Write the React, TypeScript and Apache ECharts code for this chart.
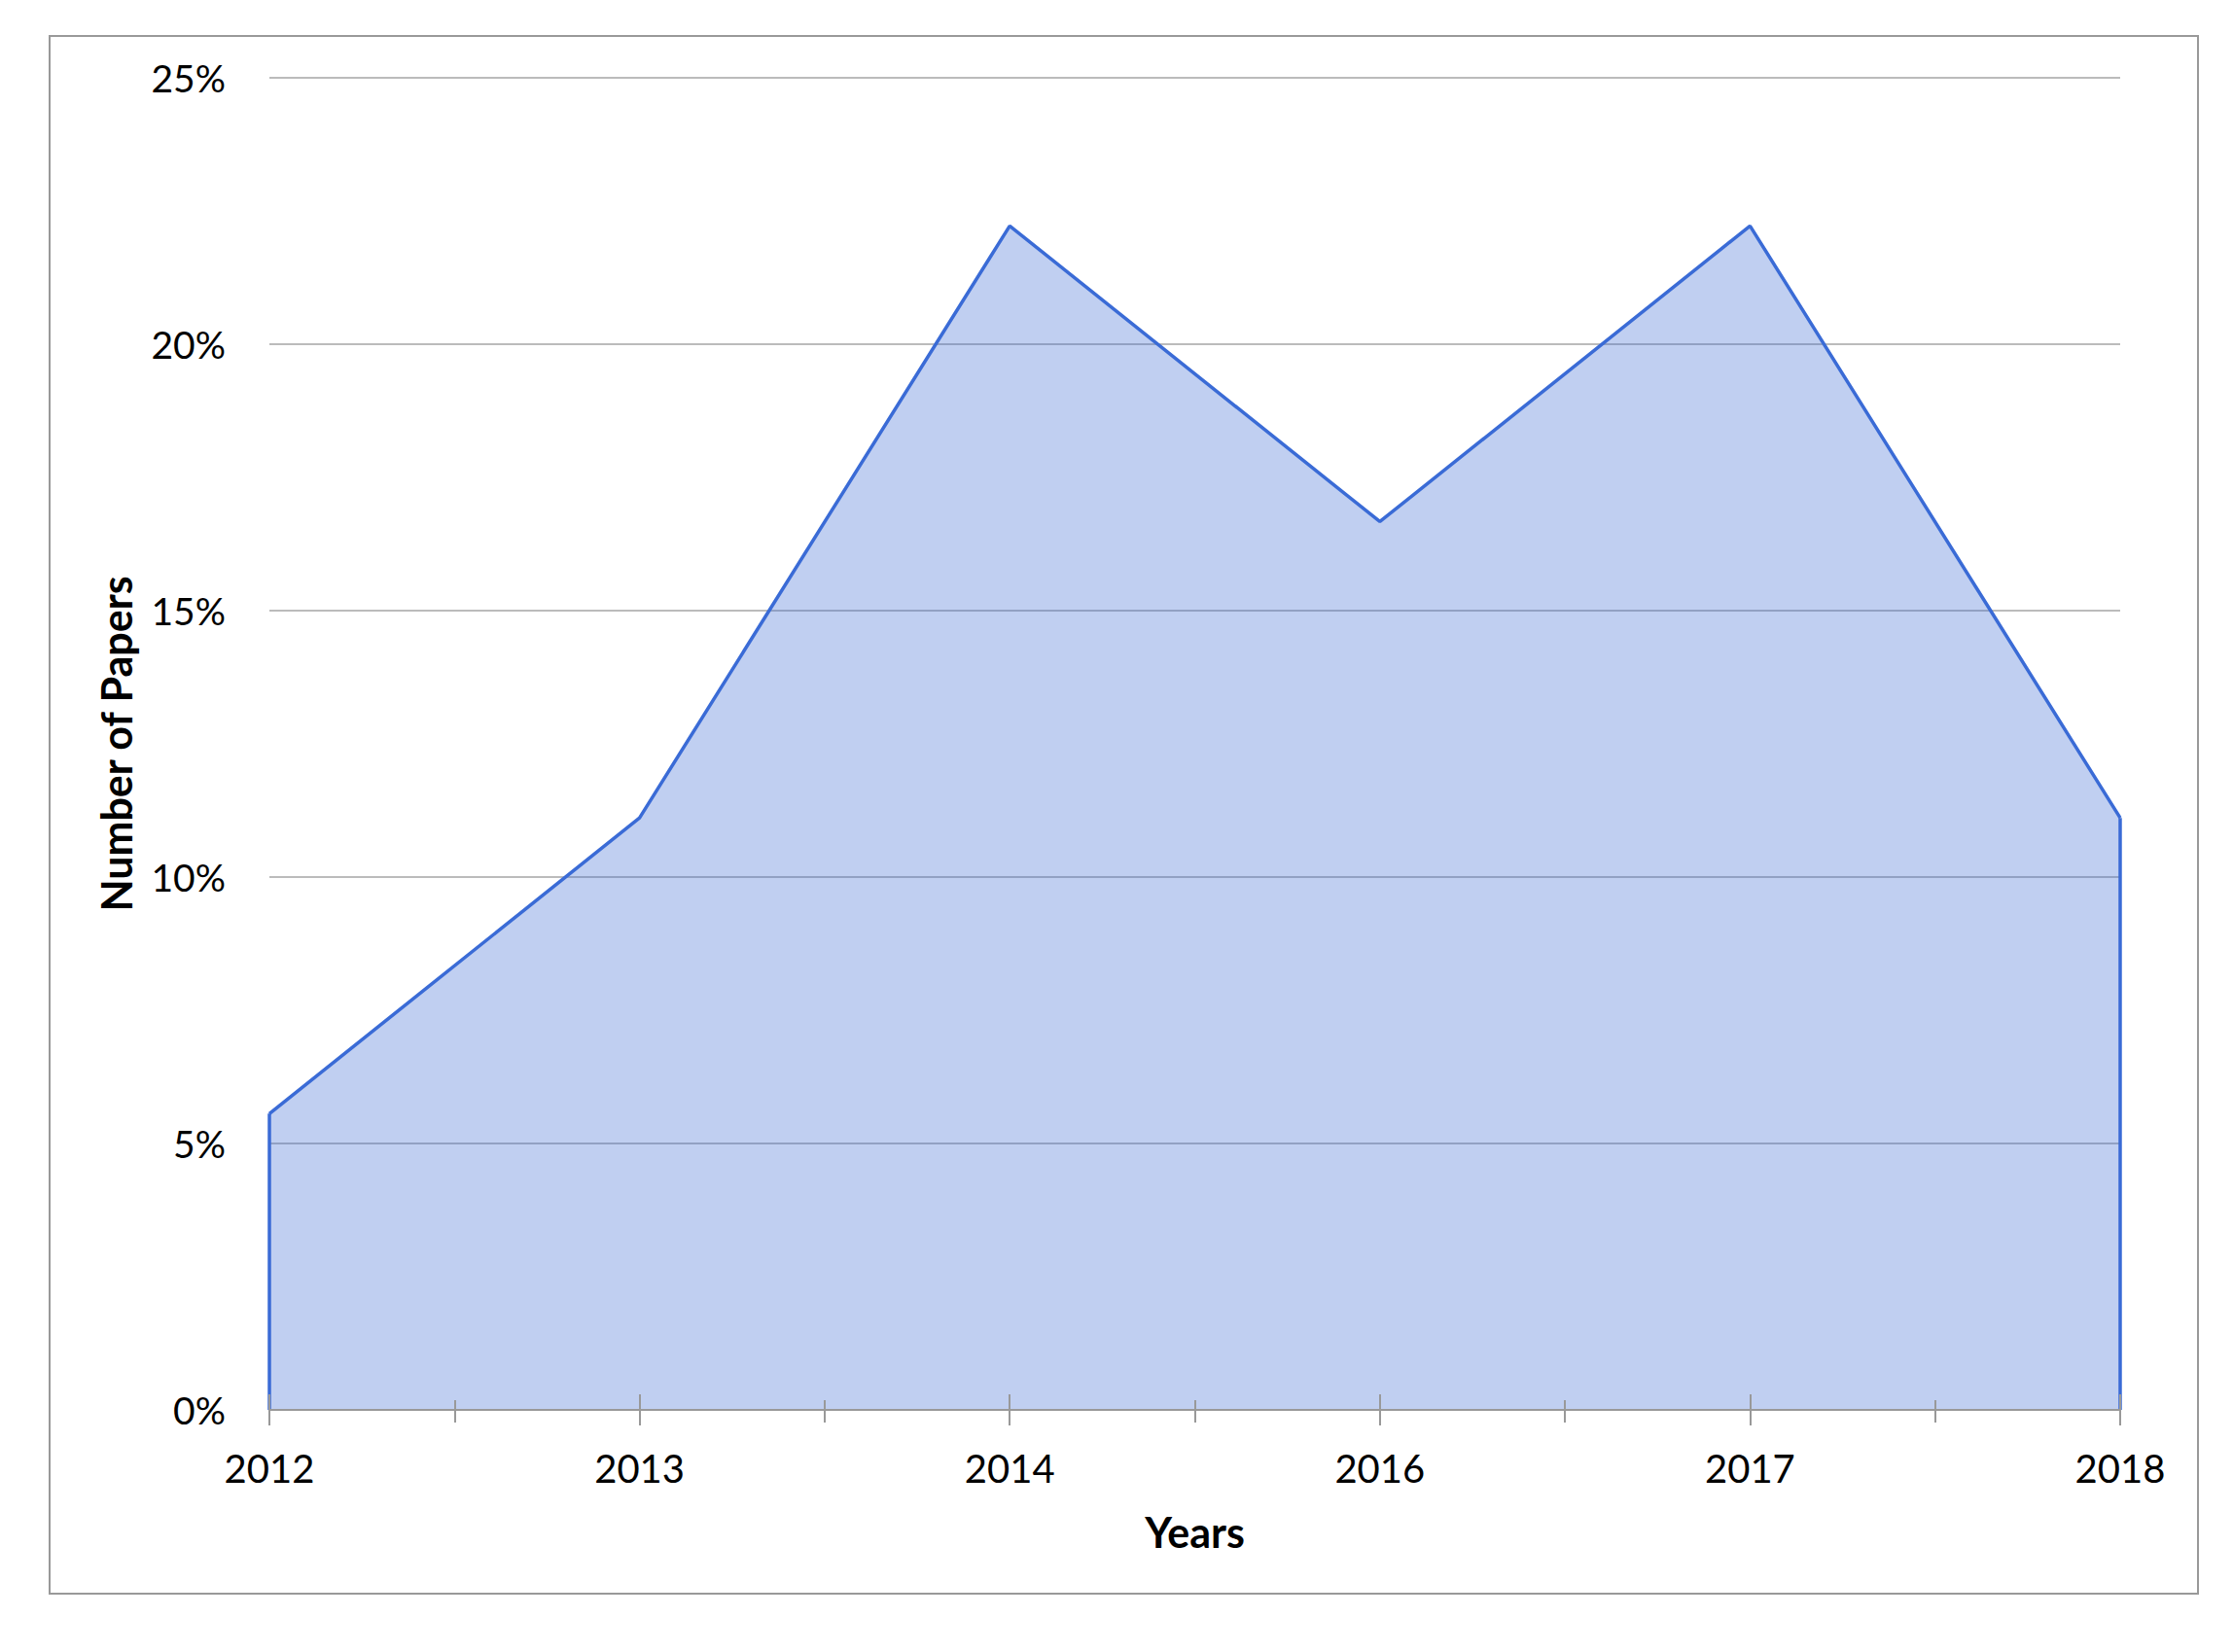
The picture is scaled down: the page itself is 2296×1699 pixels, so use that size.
import React, { useEffect, useRef } from "react";
import * as echarts from "echarts";

const years = ["2012", "2013", "2014", "2016", "2017", "2018"];
const shares = [5.56, 11.11, 22.22, 16.67, 22.22, 11.11];
const yTicks = { min: 0, max: 25, interval: 5 };
const xTitle = "Years";
const yTitle = "Number of Papers";

const LINE = "#3A6BD6";
const FONT = "Lato, 'Open Sans', sans-serif";

export default function App() {
  const ref = useRef<HTMLDivElement>(null);
  useEffect(() => {
    if (!ref.current) return;
    const chart = echarts.init(ref.current, null, { renderer: "svg" });
    const n = years.length - 1;
    const tickAxis = (interval: number, inside: boolean, length: number) => ({
      type: "value",
      position: "bottom",
      min: 0,
      max: n,
      interval,
      z: 10,
      axisLine: { show: false },
      axisLabel: { show: false },
      splitLine: { show: false },
      axisTick: { show: true, inside, length, lineStyle: { color: "#999999", width: 2 } },
    });
    chart.setOption({
      animation: false,
      backgroundColor: "#ffffff",
      textStyle: { fontFamily: FONT },
      grid: { left: 277, top: 80, right: 116, bottom: 249, containLabel: false },
      graphic: [
        {
          type: "rect",
          shape: { x: 51, y: 37, width: 2209, height: 1602 },
          style: { fill: "none", stroke: "#999999", lineWidth: 2 },
          silent: true,
        },
      ],
      xAxis: [
        {
          type: "category",
          data: years,
          boundaryGap: false,
          z: 9,
          axisLine: { show: true, lineStyle: { color: "#999999", width: 2 } },
          axisTick: { show: false },
          axisLabel: { color: "#000000", fontSize: 40, margin: 40, fontFamily: FONT },
          name: xTitle,
          nameLocation: "middle",
          nameGap: 104,
          nameTextStyle: { color: "#000000", fontSize: 43, fontWeight: "bold", fontFamily: FONT },
        },
        tickAxis(0.5, false, 13),
        tickAxis(0.5, true, 10),
        tickAxis(1, false, 16),
        tickAxis(1, true, 16),
      ],
      yAxis: {
        type: "value",
        min: yTicks.min,
        max: yTicks.max,
        interval: yTicks.interval,
        axisLine: { show: false },
        axisTick: { show: false },
        axisLabel: {
          color: "#000000",
          fontSize: 39,
          margin: 45,
          fontFamily: FONT,
          formatter: "{value}%",
        },
        splitLine: { show: true, lineStyle: { color: "#BBBBBB", width: 2 } },
        name: yTitle,
        nameLocation: "middle",
        nameRotate: 90,
        nameGap: 136,
        nameTextStyle: { color: "#000000", fontSize: 43, fontWeight: "bold", fontFamily: FONT },
      },
      series: [
        {
          type: "line",
          xAxisIndex: 0,
          data: shares,
          symbol: "none",
          z: 5,
          lineStyle: { color: LINE, width: 3.5 },
          areaStyle: { color: "rgba(60,105,210,0.32)", opacity: 1 },
          markLine: {
            silent: true,
            symbol: "none",
            label: { show: false },
            lineStyle: { color: LINE, width: 3.5, type: "solid" },
            data: [
              [
                { coord: [years[0], 0] },
                { coord: [years[0], shares[0]] },
              ],
              [
                { coord: [years[n], 0] },
                { coord: [years[n], shares[n]] },
              ],
            ],
          },
        },
      ],
    });
    return () => chart.dispose();
  }, []);
  return (
    <div
      ref={ref}
      style={{ position: "absolute", left: 0, top: 0, width: 2296, height: 1699 }}
    />
  );
}
